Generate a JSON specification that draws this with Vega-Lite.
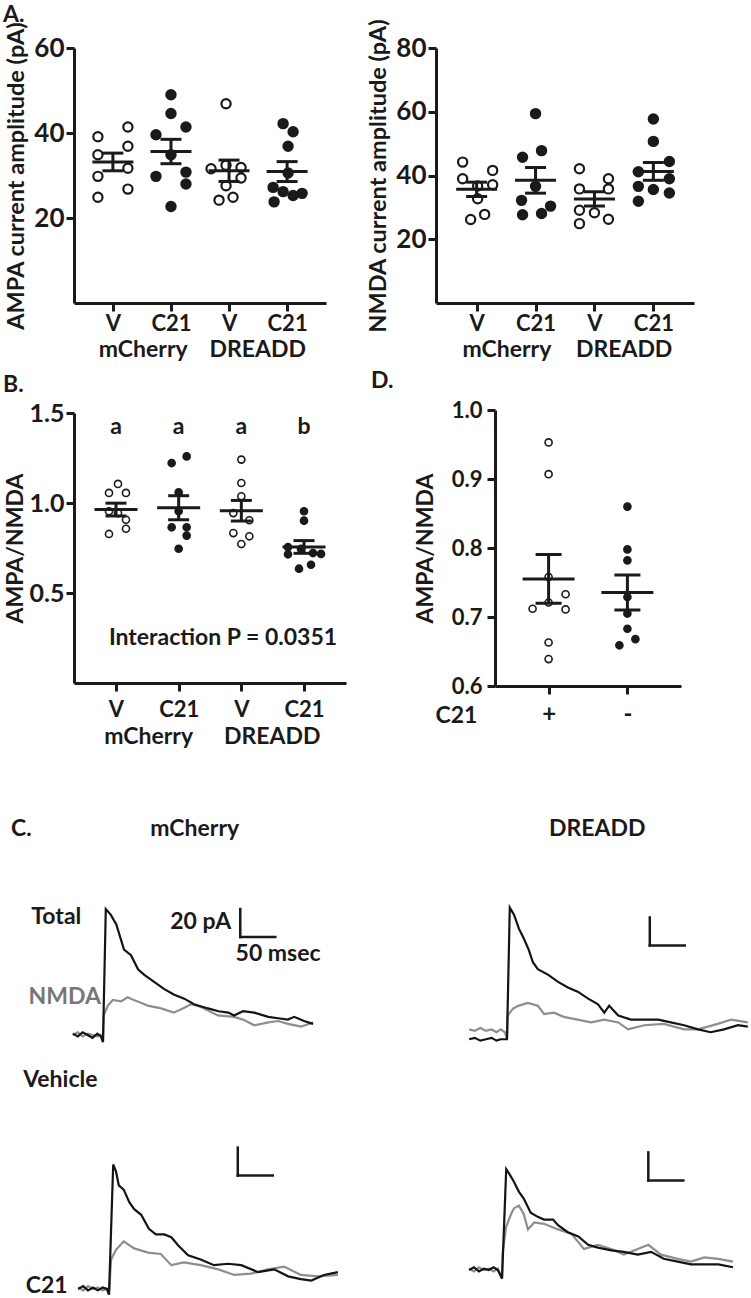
{
"$schema": "https://vega.github.io/schema/vega-lite/v6.json",
"background": "white",
"padding": {"left": 3, "top": 4, "right": 0, "bottom": 0},
"config": {
  "font": "Lato",
  "view": {"stroke": null},
  "axis": {"domainColor": "#1a1a1a", "domainWidth": 3, "tickColor": "#1a1a1a", "tickWidth": 3, "tickSize": 8, "labelFont": "Lato", "labelFontWeight": "bold", "labelFontSize": 22, "labelColor": "#1a1a1a", "titleFont": "Lato", "titleFontWeight": "bold", "titleFontSize": 23.5, "titleColor": "#1a1a1a", "grid": false},
  "title": {"font": "Lato", "fontWeight": "bold", "fontSize": 23, "color": "#1a1a1a"},
  "text": {"font": "Lato", "fontWeight": "bold", "fontSize": 23, "color": "#1a1a1a"},
  "tick": {"opacity": 1},
  "circle": {"opacity": 1}
},
"datasets": {
  "ampa": [
    {"grp": "mCherry V", "virus": "mCherry", "drug": "V", "jitter": -15, "amp": 39.1},
    {"grp": "mCherry V", "virus": "mCherry", "drug": "V", "jitter": 15, "amp": 41.4},
    {"grp": "mCherry V", "virus": "mCherry", "drug": "V", "jitter": -15, "amp": 34.9},
    {"grp": "mCherry V", "virus": "mCherry", "drug": "V", "jitter": 15, "amp": 36.9},
    {"grp": "mCherry V", "virus": "mCherry", "drug": "V", "jitter": -15, "amp": 29.8},
    {"grp": "mCherry V", "virus": "mCherry", "drug": "V", "jitter": 15, "amp": 31.7},
    {"grp": "mCherry V", "virus": "mCherry", "drug": "V", "jitter": -15, "amp": 24.9},
    {"grp": "mCherry V", "virus": "mCherry", "drug": "V", "jitter": 15, "amp": 26.8},
    {"grp": "mCherry C21", "virus": "mCherry", "drug": "C21", "jitter": 0, "amp": 49.0},
    {"grp": "mCherry C21", "virus": "mCherry", "drug": "C21", "jitter": 0, "amp": 44.6},
    {"grp": "mCherry C21", "virus": "mCherry", "drug": "C21", "jitter": 15, "amp": 41.4},
    {"grp": "mCherry C21", "virus": "mCherry", "drug": "C21", "jitter": -15, "amp": 39.6},
    {"grp": "mCherry C21", "virus": "mCherry", "drug": "C21", "jitter": 0, "amp": 34.9},
    {"grp": "mCherry C21", "virus": "mCherry", "drug": "C21", "jitter": -15, "amp": 29.8},
    {"grp": "mCherry C21", "virus": "mCherry", "drug": "C21", "jitter": 15, "amp": 30.8},
    {"grp": "mCherry C21", "virus": "mCherry", "drug": "C21", "jitter": 15, "amp": 28.0},
    {"grp": "mCherry C21", "virus": "mCherry", "drug": "C21", "jitter": 0, "amp": 22.7},
    {"grp": "DREADD V", "virus": "DREADD", "drug": "V", "jitter": -3, "amp": 46.9},
    {"grp": "DREADD V", "virus": "DREADD", "drug": "V", "jitter": -18, "amp": 31.6},
    {"grp": "DREADD V", "virus": "DREADD", "drug": "V", "jitter": -3, "amp": 32.4},
    {"grp": "DREADD V", "virus": "DREADD", "drug": "V", "jitter": 12, "amp": 31.9},
    {"grp": "DREADD V", "virus": "DREADD", "drug": "V", "jitter": 12, "amp": 29.4},
    {"grp": "DREADD V", "virus": "DREADD", "drug": "V", "jitter": -3, "amp": 27.6},
    {"grp": "DREADD V", "virus": "DREADD", "drug": "V", "jitter": -10, "amp": 24.2},
    {"grp": "DREADD V", "virus": "DREADD", "drug": "V", "jitter": 4, "amp": 24.9},
    {"grp": "DREADD C21", "virus": "DREADD", "drug": "C21", "jitter": -4, "amp": 42.2},
    {"grp": "DREADD C21", "virus": "DREADD", "drug": "C21", "jitter": 6, "amp": 40.3},
    {"grp": "DREADD C21", "virus": "DREADD", "drug": "C21", "jitter": 1, "amp": 36.9},
    {"grp": "DREADD C21", "virus": "DREADD", "drug": "C21", "jitter": 1, "amp": 30.6},
    {"grp": "DREADD C21", "virus": "DREADD", "drug": "C21", "jitter": -14, "amp": 27.2},
    {"grp": "DREADD C21", "virus": "DREADD", "drug": "C21", "jitter": -4, "amp": 26.2},
    {"grp": "DREADD C21", "virus": "DREADD", "drug": "C21", "jitter": 6, "amp": 25.3},
    {"grp": "DREADD C21", "virus": "DREADD", "drug": "C21", "jitter": 15, "amp": 25.8},
    {"grp": "DREADD C21", "virus": "DREADD", "drug": "C21", "jitter": -13, "amp": 23.8}
  ],
  "nmda": [
    {"grp": "mCherry V", "virus": "mCherry", "drug": "V", "jitter": -14, "amp": 44.2},
    {"grp": "mCherry V", "virus": "mCherry", "drug": "V", "jitter": 16, "amp": 41.6},
    {"grp": "mCherry V", "virus": "mCherry", "drug": "V", "jitter": -14, "amp": 39.0},
    {"grp": "mCherry V", "virus": "mCherry", "drug": "V", "jitter": 16, "amp": 37.1},
    {"grp": "mCherry V", "virus": "mCherry", "drug": "V", "jitter": 1, "amp": 36.7},
    {"grp": "mCherry V", "virus": "mCherry", "drug": "V", "jitter": 1, "amp": 32.7},
    {"grp": "mCherry V", "virus": "mCherry", "drug": "V", "jitter": -6, "amp": 26.2},
    {"grp": "mCherry V", "virus": "mCherry", "drug": "V", "jitter": 8, "amp": 27.8},
    {"grp": "mCherry C21", "virus": "mCherry", "drug": "C21", "jitter": 0, "amp": 59.4},
    {"grp": "mCherry C21", "virus": "mCherry", "drug": "C21", "jitter": 6, "amp": 47.8},
    {"grp": "mCherry C21", "virus": "mCherry", "drug": "C21", "jitter": -13, "amp": 45.7},
    {"grp": "mCherry C21", "virus": "mCherry", "drug": "C21", "jitter": 0, "amp": 36.6},
    {"grp": "mCherry C21", "virus": "mCherry", "drug": "C21", "jitter": -14, "amp": 32.2},
    {"grp": "mCherry C21", "virus": "mCherry", "drug": "C21", "jitter": 15, "amp": 30.4},
    {"grp": "mCherry C21", "virus": "mCherry", "drug": "C21", "jitter": -13, "amp": 27.7},
    {"grp": "mCherry C21", "virus": "mCherry", "drug": "C21", "jitter": 6, "amp": 28.1},
    {"grp": "DREADD V", "virus": "DREADD", "drug": "V", "jitter": -15, "amp": 42.1},
    {"grp": "DREADD V", "virus": "DREADD", "drug": "V", "jitter": 14, "amp": 39.0},
    {"grp": "DREADD V", "virus": "DREADD", "drug": "V", "jitter": -15, "amp": 35.8},
    {"grp": "DREADD V", "virus": "DREADD", "drug": "V", "jitter": 14, "amp": 35.8},
    {"grp": "DREADD V", "virus": "DREADD", "drug": "V", "jitter": -15, "amp": 29.1},
    {"grp": "DREADD V", "virus": "DREADD", "drug": "V", "jitter": 0, "amp": 28.3},
    {"grp": "DREADD V", "virus": "DREADD", "drug": "V", "jitter": 14, "amp": 26.3},
    {"grp": "DREADD V", "virus": "DREADD", "drug": "V", "jitter": -15, "amp": 24.9},
    {"grp": "DREADD C21", "virus": "DREADD", "drug": "C21", "jitter": 0, "amp": 57.7},
    {"grp": "DREADD C21", "virus": "DREADD", "drug": "C21", "jitter": 0, "amp": 50.7},
    {"grp": "DREADD C21", "virus": "DREADD", "drug": "C21", "jitter": 16, "amp": 44.4},
    {"grp": "DREADD C21", "virus": "DREADD", "drug": "C21", "jitter": -15, "amp": 41.2},
    {"grp": "DREADD C21", "virus": "DREADD", "drug": "C21", "jitter": -15, "amp": 36.6},
    {"grp": "DREADD C21", "virus": "DREADD", "drug": "C21", "jitter": 16, "amp": 39.0},
    {"grp": "DREADD C21", "virus": "DREADD", "drug": "C21", "jitter": 0, "amp": 35.6},
    {"grp": "DREADD C21", "virus": "DREADD", "drug": "C21", "jitter": 16, "amp": 34.5},
    {"grp": "DREADD C21", "virus": "DREADD", "drug": "C21", "jitter": -15, "amp": 31.9}
  ],
  "ratio": [
    {"grp": "mCherry V", "virus": "mCherry", "drug": "V", "jitter": 2, "ratio": 1.106},
    {"grp": "mCherry V", "virus": "mCherry", "drug": "V", "jitter": -7, "ratio": 1.056},
    {"grp": "mCherry V", "virus": "mCherry", "drug": "V", "jitter": 10, "ratio": 1.056},
    {"grp": "mCherry V", "virus": "mCherry", "drug": "V", "jitter": -7, "ratio": 0.954},
    {"grp": "mCherry V", "virus": "mCherry", "drug": "V", "jitter": 2, "ratio": 0.944},
    {"grp": "mCherry V", "virus": "mCherry", "drug": "V", "jitter": 10, "ratio": 0.907},
    {"grp": "mCherry V", "virus": "mCherry", "drug": "V", "jitter": -7, "ratio": 0.828},
    {"grp": "mCherry V", "virus": "mCherry", "drug": "V", "jitter": 10, "ratio": 0.857},
    {"grp": "mCherry C21", "virus": "mCherry", "drug": "C21", "jitter": 8, "ratio": 1.259},
    {"grp": "mCherry C21", "virus": "mCherry", "drug": "C21", "jitter": -7, "ratio": 1.222},
    {"grp": "mCherry C21", "virus": "mCherry", "drug": "C21", "jitter": 0, "ratio": 1.059},
    {"grp": "mCherry C21", "virus": "mCherry", "drug": "C21", "jitter": 0, "ratio": 0.954},
    {"grp": "mCherry C21", "virus": "mCherry", "drug": "C21", "jitter": -7, "ratio": 0.865},
    {"grp": "mCherry C21", "virus": "mCherry", "drug": "C21", "jitter": 8, "ratio": 0.865},
    {"grp": "mCherry C21", "virus": "mCherry", "drug": "C21", "jitter": 8, "ratio": 0.819},
    {"grp": "mCherry C21", "virus": "mCherry", "drug": "C21", "jitter": 0, "ratio": 0.746},
    {"grp": "DREADD V", "virus": "DREADD", "drug": "V", "jitter": 0, "ratio": 1.241},
    {"grp": "DREADD V", "virus": "DREADD", "drug": "V", "jitter": 0, "ratio": 1.111},
    {"grp": "DREADD V", "virus": "DREADD", "drug": "V", "jitter": 0, "ratio": 1.037},
    {"grp": "DREADD V", "virus": "DREADD", "drug": "V", "jitter": -8, "ratio": 0.944},
    {"grp": "DREADD V", "virus": "DREADD", "drug": "V", "jitter": 8, "ratio": 0.904},
    {"grp": "DREADD V", "virus": "DREADD", "drug": "V", "jitter": -8, "ratio": 0.833},
    {"grp": "DREADD V", "virus": "DREADD", "drug": "V", "jitter": 8, "ratio": 0.815},
    {"grp": "DREADD V", "virus": "DREADD", "drug": "V", "jitter": 0, "ratio": 0.772},
    {"grp": "DREADD C21", "virus": "DREADD", "drug": "C21", "jitter": 0, "ratio": 0.954},
    {"grp": "DREADD C21", "virus": "DREADD", "drug": "C21", "jitter": 0, "ratio": 0.902},
    {"grp": "DREADD C21", "virus": "DREADD", "drug": "C21", "jitter": -16, "ratio": 0.755},
    {"grp": "DREADD C21", "virus": "DREADD", "drug": "C21", "jitter": -16, "ratio": 0.715},
    {"grp": "DREADD C21", "virus": "DREADD", "drug": "C21", "jitter": -3, "ratio": 0.745},
    {"grp": "DREADD C21", "virus": "DREADD", "drug": "C21", "jitter": 9, "ratio": 0.722},
    {"grp": "DREADD C21", "virus": "DREADD", "drug": "C21", "jitter": 17, "ratio": 0.717},
    {"grp": "DREADD C21", "virus": "DREADD", "drug": "C21", "jitter": -5, "ratio": 0.635},
    {"grp": "DREADD C21", "virus": "DREADD", "drug": "C21", "jitter": 7, "ratio": 0.657}
  ],
  "letters": [
    {"grp": "mCherry V", "letter": "a"},
    {"grp": "mCherry C21", "letter": "a"},
    {"grp": "DREADD V", "letter": "a"},
    {"grp": "DREADD C21", "letter": "b"}
  ],
  "ratio2": [
    {"c21": "+", "jitter": 0, "ratio": 0.953},
    {"c21": "+", "jitter": 0, "ratio": 0.907},
    {"c21": "+", "jitter": 0, "ratio": 0.758},
    {"c21": "+", "jitter": 17, "ratio": 0.733},
    {"c21": "+", "jitter": -16, "ratio": 0.712},
    {"c21": "+", "jitter": 0, "ratio": 0.721},
    {"c21": "+", "jitter": 17, "ratio": 0.711},
    {"c21": "+", "jitter": 0, "ratio": 0.663},
    {"c21": "+", "jitter": 0, "ratio": 0.639},
    {"c21": "-", "jitter": 0, "ratio": 0.860},
    {"c21": "-", "jitter": 0, "ratio": 0.798},
    {"c21": "-", "jitter": 0, "ratio": 0.782},
    {"c21": "-", "jitter": 0, "ratio": 0.729},
    {"c21": "-", "jitter": 0, "ratio": 0.705},
    {"c21": "-", "jitter": 0, "ratio": 0.683},
    {"c21": "-", "jitter": 8, "ratio": 0.668},
    {"c21": "-", "jitter": -8, "ratio": 0.659}
  ],
  "traces": [
    {"cond": "MV", "trace": "Total", "t": -43, "pA": 1}, {"cond": "MV", "trace": "Total", "t": -36, "pA": -1}, {"cond": "MV", "trace": "Total", "t": -29, "pA": 2}, {"cond": "MV", "trace": "Total", "t": -22, "pA": 0}, {"cond": "MV", "trace": "Total", "t": -15, "pA": -2}, {"cond": "MV", "trace": "Total", "t": -8, "pA": 1}, {"cond": "MV", "trace": "Total", "t": -3, "pA": -1}, {"cond": "MV", "trace": "Total", "t": 0, "pA": -5}, {"cond": "MV", "trace": "Total", "t": 4, "pA": 90}, {"cond": "MV", "trace": "Total", "t": 11, "pA": 86}, {"cond": "MV", "trace": "Total", "t": 19, "pA": 79}, {"cond": "MV", "trace": "Total", "t": 30, "pA": 61}, {"cond": "MV", "trace": "Total", "t": 40, "pA": 57}, {"cond": "MV", "trace": "Total", "t": 50, "pA": 47}, {"cond": "MV", "trace": "Total", "t": 59, "pA": 43}, {"cond": "MV", "trace": "Total", "t": 73, "pA": 38}, {"cond": "MV", "trace": "Total", "t": 87, "pA": 33}, {"cond": "MV", "trace": "Total", "t": 101, "pA": 29}, {"cond": "MV", "trace": "Total", "t": 116, "pA": 26}, {"cond": "MV", "trace": "Total", "t": 130, "pA": 22}, {"cond": "MV", "trace": "Total", "t": 150, "pA": 19}, {"cond": "MV", "trace": "Total", "t": 165, "pA": 17}, {"cond": "MV", "trace": "Total", "t": 179, "pA": 16}, {"cond": "MV", "trace": "Total", "t": 187, "pA": 14}, {"cond": "MV", "trace": "Total", "t": 200, "pA": 17}, {"cond": "MV", "trace": "Total", "t": 216, "pA": 16}, {"cond": "MV", "trace": "Total", "t": 236, "pA": 13}, {"cond": "MV", "trace": "Total", "t": 250, "pA": 12}, {"cond": "MV", "trace": "Total", "t": 264, "pA": 11}, {"cond": "MV", "trace": "Total", "t": 273, "pA": 13}, {"cond": "MV", "trace": "Total", "t": 287, "pA": 10}, {"cond": "MV", "trace": "Total", "t": 300, "pA": 8},
    {"cond": "MV", "trace": "NMDA", "t": -43, "pA": 0}, {"cond": "MV", "trace": "NMDA", "t": -36, "pA": 2}, {"cond": "MV", "trace": "NMDA", "t": -29, "pA": -1}, {"cond": "MV", "trace": "NMDA", "t": -22, "pA": 1}, {"cond": "MV", "trace": "NMDA", "t": -15, "pA": 0}, {"cond": "MV", "trace": "NMDA", "t": -8, "pA": -1}, {"cond": "MV", "trace": "NMDA", "t": -3, "pA": 0}, {"cond": "MV", "trace": "NMDA", "t": 0, "pA": -5}, {"cond": "MV", "trace": "NMDA", "t": 1, "pA": 14}, {"cond": "MV", "trace": "NMDA", "t": 7, "pA": 21}, {"cond": "MV", "trace": "NMDA", "t": 14, "pA": 25}, {"cond": "MV", "trace": "NMDA", "t": 26, "pA": 24}, {"cond": "MV", "trace": "NMDA", "t": 35, "pA": 27}, {"cond": "MV", "trace": "NMDA", "t": 44, "pA": 25}, {"cond": "MV", "trace": "NMDA", "t": 54, "pA": 23}, {"cond": "MV", "trace": "NMDA", "t": 64, "pA": 21}, {"cond": "MV", "trace": "NMDA", "t": 83, "pA": 19}, {"cond": "MV", "trace": "NMDA", "t": 101, "pA": 16}, {"cond": "MV", "trace": "NMDA", "t": 114, "pA": 19}, {"cond": "MV", "trace": "NMDA", "t": 126, "pA": 22}, {"cond": "MV", "trace": "NMDA", "t": 140, "pA": 20}, {"cond": "MV", "trace": "NMDA", "t": 164, "pA": 14}, {"cond": "MV", "trace": "NMDA", "t": 187, "pA": 13}, {"cond": "MV", "trace": "NMDA", "t": 200, "pA": 11}, {"cond": "MV", "trace": "NMDA", "t": 216, "pA": 7}, {"cond": "MV", "trace": "NMDA", "t": 236, "pA": 9}, {"cond": "MV", "trace": "NMDA", "t": 250, "pA": 10}, {"cond": "MV", "trace": "NMDA", "t": 264, "pA": 8}, {"cond": "MV", "trace": "NMDA", "t": 283, "pA": 6}, {"cond": "MV", "trace": "NMDA", "t": 300, "pA": 9},
    {"cond": "MC", "trace": "Total", "t": -44, "pA": 0}, {"cond": "MC", "trace": "Total", "t": -37, "pA": 2}, {"cond": "MC", "trace": "Total", "t": -30, "pA": -1}, {"cond": "MC", "trace": "Total", "t": -23, "pA": 1}, {"cond": "MC", "trace": "Total", "t": -16, "pA": -1}, {"cond": "MC", "trace": "Total", "t": -9, "pA": 1}, {"cond": "MC", "trace": "Total", "t": -3, "pA": 0}, {"cond": "MC", "trace": "Total", "t": 0, "pA": -4}, {"cond": "MC", "trace": "Total", "t": 6, "pA": 89}, {"cond": "MC", "trace": "Total", "t": 10, "pA": 84}, {"cond": "MC", "trace": "Total", "t": 14, "pA": 74}, {"cond": "MC", "trace": "Total", "t": 21, "pA": 71}, {"cond": "MC", "trace": "Total", "t": 29, "pA": 62}, {"cond": "MC", "trace": "Total", "t": 36, "pA": 57}, {"cond": "MC", "trace": "Total", "t": 46, "pA": 53}, {"cond": "MC", "trace": "Total", "t": 57, "pA": 43}, {"cond": "MC", "trace": "Total", "t": 67, "pA": 39}, {"cond": "MC", "trace": "Total", "t": 79, "pA": 39}, {"cond": "MC", "trace": "Total", "t": 89, "pA": 37}, {"cond": "MC", "trace": "Total", "t": 99, "pA": 31}, {"cond": "MC", "trace": "Total", "t": 113, "pA": 24}, {"cond": "MC", "trace": "Total", "t": 131, "pA": 21}, {"cond": "MC", "trace": "Total", "t": 150, "pA": 17}, {"cond": "MC", "trace": "Total", "t": 170, "pA": 18}, {"cond": "MC", "trace": "Total", "t": 189, "pA": 17}, {"cond": "MC", "trace": "Total", "t": 213, "pA": 12}, {"cond": "MC", "trace": "Total", "t": 236, "pA": 14}, {"cond": "MC", "trace": "Total", "t": 256, "pA": 9}, {"cond": "MC", "trace": "Total", "t": 274, "pA": 7}, {"cond": "MC", "trace": "Total", "t": 289, "pA": 6}, {"cond": "MC", "trace": "Total", "t": 307, "pA": 10}, {"cond": "MC", "trace": "Total", "t": 327, "pA": 12},
    {"cond": "MC", "trace": "NMDA", "t": -44, "pA": 1}, {"cond": "MC", "trace": "NMDA", "t": -37, "pA": -1}, {"cond": "MC", "trace": "NMDA", "t": -30, "pA": 2}, {"cond": "MC", "trace": "NMDA", "t": -23, "pA": 0}, {"cond": "MC", "trace": "NMDA", "t": -16, "pA": 1}, {"cond": "MC", "trace": "NMDA", "t": -9, "pA": -1}, {"cond": "MC", "trace": "NMDA", "t": -3, "pA": 0}, {"cond": "MC", "trace": "NMDA", "t": 0, "pA": -4}, {"cond": "MC", "trace": "NMDA", "t": 3, "pA": 21}, {"cond": "MC", "trace": "NMDA", "t": 10, "pA": 28}, {"cond": "MC", "trace": "NMDA", "t": 21, "pA": 34}, {"cond": "MC", "trace": "NMDA", "t": 36, "pA": 29}, {"cond": "MC", "trace": "NMDA", "t": 56, "pA": 26}, {"cond": "MC", "trace": "NMDA", "t": 74, "pA": 25}, {"cond": "MC", "trace": "NMDA", "t": 89, "pA": 17}, {"cond": "MC", "trace": "NMDA", "t": 107, "pA": 19}, {"cond": "MC", "trace": "NMDA", "t": 131, "pA": 17}, {"cond": "MC", "trace": "NMDA", "t": 156, "pA": 14}, {"cond": "MC", "trace": "NMDA", "t": 179, "pA": 10}, {"cond": "MC", "trace": "NMDA", "t": 203, "pA": 11}, {"cond": "MC", "trace": "NMDA", "t": 227, "pA": 14}, {"cond": "MC", "trace": "NMDA", "t": 250, "pA": 16}, {"cond": "MC", "trace": "NMDA", "t": 274, "pA": 10}, {"cond": "MC", "trace": "NMDA", "t": 299, "pA": 9}, {"cond": "MC", "trace": "NMDA", "t": 327, "pA": 10},
    {"cond": "DV", "trace": "Total", "t": -54, "pA": -3}, {"cond": "DV", "trace": "Total", "t": -46, "pA": -2}, {"cond": "DV", "trace": "Total", "t": -38, "pA": -4}, {"cond": "DV", "trace": "Total", "t": -30, "pA": -3}, {"cond": "DV", "trace": "Total", "t": -22, "pA": -2}, {"cond": "DV", "trace": "Total", "t": -15, "pA": -4}, {"cond": "DV", "trace": "Total", "t": -9, "pA": -3}, {"cond": "DV", "trace": "Total", "t": -3, "pA": -3}, {"cond": "DV", "trace": "Total", "t": 0, "pA": -3}, {"cond": "DV", "trace": "Total", "t": 4, "pA": 91}, {"cond": "DV", "trace": "Total", "t": 10, "pA": 86}, {"cond": "DV", "trace": "Total", "t": 17, "pA": 76}, {"cond": "DV", "trace": "Total", "t": 24, "pA": 69}, {"cond": "DV", "trace": "Total", "t": 31, "pA": 61}, {"cond": "DV", "trace": "Total", "t": 37, "pA": 52}, {"cond": "DV", "trace": "Total", "t": 44, "pA": 47}, {"cond": "DV", "trace": "Total", "t": 59, "pA": 43}, {"cond": "DV", "trace": "Total", "t": 73, "pA": 38}, {"cond": "DV", "trace": "Total", "t": 87, "pA": 34}, {"cond": "DV", "trace": "Total", "t": 101, "pA": 31}, {"cond": "DV", "trace": "Total", "t": 116, "pA": 26}, {"cond": "DV", "trace": "Total", "t": 130, "pA": 22}, {"cond": "DV", "trace": "Total", "t": 139, "pA": 16}, {"cond": "DV", "trace": "Total", "t": 146, "pA": 21}, {"cond": "DV", "trace": "Total", "t": 159, "pA": 14}, {"cond": "DV", "trace": "Total", "t": 177, "pA": 11}, {"cond": "DV", "trace": "Total", "t": 196, "pA": 11}, {"cond": "DV", "trace": "Total", "t": 216, "pA": 11}, {"cond": "DV", "trace": "Total", "t": 234, "pA": 9}, {"cond": "DV", "trace": "Total", "t": 253, "pA": 7}, {"cond": "DV", "trace": "Total", "t": 273, "pA": 4}, {"cond": "DV", "trace": "Total", "t": 291, "pA": 2}, {"cond": "DV", "trace": "Total", "t": 310, "pA": 4}, {"cond": "DV", "trace": "Total", "t": 330, "pA": 7}, {"cond": "DV", "trace": "Total", "t": 344, "pA": 6},
    {"cond": "DV", "trace": "NMDA", "t": -54, "pA": 4}, {"cond": "DV", "trace": "NMDA", "t": -46, "pA": 3}, {"cond": "DV", "trace": "NMDA", "t": -38, "pA": 5}, {"cond": "DV", "trace": "NMDA", "t": -30, "pA": 3}, {"cond": "DV", "trace": "NMDA", "t": -22, "pA": 4}, {"cond": "DV", "trace": "NMDA", "t": -15, "pA": 2}, {"cond": "DV", "trace": "NMDA", "t": -9, "pA": 4}, {"cond": "DV", "trace": "NMDA", "t": -3, "pA": 2}, {"cond": "DV", "trace": "NMDA", "t": 0, "pA": -3}, {"cond": "DV", "trace": "NMDA", "t": 1, "pA": 14}, {"cond": "DV", "trace": "NMDA", "t": 9, "pA": 19}, {"cond": "DV", "trace": "NMDA", "t": 17, "pA": 21}, {"cond": "DV", "trace": "NMDA", "t": 30, "pA": 23}, {"cond": "DV", "trace": "NMDA", "t": 44, "pA": 21}, {"cond": "DV", "trace": "NMDA", "t": 53, "pA": 15}, {"cond": "DV", "trace": "NMDA", "t": 67, "pA": 16}, {"cond": "DV", "trace": "NMDA", "t": 81, "pA": 13}, {"cond": "DV", "trace": "NMDA", "t": 101, "pA": 11}, {"cond": "DV", "trace": "NMDA", "t": 120, "pA": 9}, {"cond": "DV", "trace": "NMDA", "t": 139, "pA": 11}, {"cond": "DV", "trace": "NMDA", "t": 159, "pA": 9}, {"cond": "DV", "trace": "NMDA", "t": 173, "pA": 4}, {"cond": "DV", "trace": "NMDA", "t": 196, "pA": 7}, {"cond": "DV", "trace": "NMDA", "t": 224, "pA": 8}, {"cond": "DV", "trace": "NMDA", "t": 253, "pA": 4}, {"cond": "DV", "trace": "NMDA", "t": 273, "pA": 4}, {"cond": "DV", "trace": "NMDA", "t": 301, "pA": 8}, {"cond": "DV", "trace": "NMDA", "t": 320, "pA": 11}, {"cond": "DV", "trace": "NMDA", "t": 344, "pA": 9},
    {"cond": "DC", "trace": "Total", "t": -47, "pA": 0}, {"cond": "DC", "trace": "Total", "t": -40, "pA": 2}, {"cond": "DC", "trace": "Total", "t": -33, "pA": -1}, {"cond": "DC", "trace": "Total", "t": -26, "pA": 1}, {"cond": "DC", "trace": "Total", "t": -19, "pA": 0}, {"cond": "DC", "trace": "Total", "t": -12, "pA": 2}, {"cond": "DC", "trace": "Total", "t": -6, "pA": 0}, {"cond": "DC", "trace": "Total", "t": 0, "pA": -6}, {"cond": "DC", "trace": "Total", "t": 6, "pA": 72}, {"cond": "DC", "trace": "Total", "t": 10, "pA": 69}, {"cond": "DC", "trace": "Total", "t": 17, "pA": 63}, {"cond": "DC", "trace": "Total", "t": 24, "pA": 56}, {"cond": "DC", "trace": "Total", "t": 31, "pA": 51}, {"cond": "DC", "trace": "Total", "t": 41, "pA": 41}, {"cond": "DC", "trace": "Total", "t": 51, "pA": 38}, {"cond": "DC", "trace": "Total", "t": 60, "pA": 36}, {"cond": "DC", "trace": "Total", "t": 73, "pA": 36}, {"cond": "DC", "trace": "Total", "t": 80, "pA": 32}, {"cond": "DC", "trace": "Total", "t": 94, "pA": 27}, {"cond": "DC", "trace": "Total", "t": 109, "pA": 24}, {"cond": "DC", "trace": "Total", "t": 123, "pA": 18}, {"cond": "DC", "trace": "Total", "t": 137, "pA": 16}, {"cond": "DC", "trace": "Total", "t": 156, "pA": 14}, {"cond": "DC", "trace": "Total", "t": 174, "pA": 13}, {"cond": "DC", "trace": "Total", "t": 194, "pA": 11}, {"cond": "DC", "trace": "Total", "t": 213, "pA": 13}, {"cond": "DC", "trace": "Total", "t": 231, "pA": 8}, {"cond": "DC", "trace": "Total", "t": 251, "pA": 6}, {"cond": "DC", "trace": "Total", "t": 270, "pA": 4}, {"cond": "DC", "trace": "Total", "t": 289, "pA": 4}, {"cond": "DC", "trace": "Total", "t": 309, "pA": 4}, {"cond": "DC", "trace": "Total", "t": 330, "pA": 2},
    {"cond": "DC", "trace": "NMDA", "t": -47, "pA": 1}, {"cond": "DC", "trace": "NMDA", "t": -40, "pA": -1}, {"cond": "DC", "trace": "NMDA", "t": -33, "pA": 2}, {"cond": "DC", "trace": "NMDA", "t": -26, "pA": 0}, {"cond": "DC", "trace": "NMDA", "t": -19, "pA": 1}, {"cond": "DC", "trace": "NMDA", "t": -12, "pA": -1}, {"cond": "DC", "trace": "NMDA", "t": -6, "pA": 1}, {"cond": "DC", "trace": "NMDA", "t": 0, "pA": -6}, {"cond": "DC", "trace": "NMDA", "t": 1, "pA": 13}, {"cond": "DC", "trace": "NMDA", "t": 6, "pA": 31}, {"cond": "DC", "trace": "NMDA", "t": 13, "pA": 40}, {"cond": "DC", "trace": "NMDA", "t": 17, "pA": 44}, {"cond": "DC", "trace": "NMDA", "t": 24, "pA": 46}, {"cond": "DC", "trace": "NMDA", "t": 31, "pA": 40}, {"cond": "DC", "trace": "NMDA", "t": 37, "pA": 29}, {"cond": "DC", "trace": "NMDA", "t": 46, "pA": 34}, {"cond": "DC", "trace": "NMDA", "t": 60, "pA": 33}, {"cond": "DC", "trace": "NMDA", "t": 80, "pA": 29}, {"cond": "DC", "trace": "NMDA", "t": 99, "pA": 26}, {"cond": "DC", "trace": "NMDA", "t": 117, "pA": 15}, {"cond": "DC", "trace": "NMDA", "t": 137, "pA": 18}, {"cond": "DC", "trace": "NMDA", "t": 156, "pA": 15}, {"cond": "DC", "trace": "NMDA", "t": 174, "pA": 11}, {"cond": "DC", "trace": "NMDA", "t": 194, "pA": 15}, {"cond": "DC", "trace": "NMDA", "t": 209, "pA": 18}, {"cond": "DC", "trace": "NMDA", "t": 227, "pA": 11}, {"cond": "DC", "trace": "NMDA", "t": 251, "pA": 8}, {"cond": "DC", "trace": "NMDA", "t": 270, "pA": 6}, {"cond": "DC", "trace": "NMDA", "t": 289, "pA": 9}, {"cond": "DC", "trace": "NMDA", "t": 309, "pA": 8}, {"cond": "DC", "trace": "NMDA", "t": 330, "pA": 6}
  ]
},
"spacing": 70,
"vconcat": [
  {
    "spacing": 9,
    "vconcat": [
      {
        "bounds": "flush",
        "spacing": 110,
        "hconcat": [
          {
            "width": 252, "height": 255,
            "title": {"text": "A.", "anchor": "start", "frame": "group", "offset": -6, "dx": -71},
            "data": {"name": "ampa"},
            "layer": [
              {"layer": [
                {"mark": {"type": "circle", "size": 85, "stroke": "#1a1a1a", "strokeWidth": 2.2, "opacity": 1},
                 "encoding": {
                   "x": {"field": "grp", "type": "ordinal", "scale": {"type": "point", "padding": 0.67, "domain": ["mCherry V", "mCherry C21", "DREADD V", "DREADD C21"]}, "axis": {"title": null, "labelExpr": "split(datum.label,' ')[1]", "labelAngle": 0, "labelPadding": 2}},
                   "xOffset": {"field": "jitter", "type": "quantitative", "scale": {"domain": [-20, 20], "range": [-20, 20]}},
                   "y": {"field": "amp", "type": "quantitative", "title": "AMPA current amplitude (pA)", "scale": {"domain": [0, 60], "nice": false}, "axis": {"values": [20, 40, 60], "labelPadding": 2, "titlePadding": 5, "labelFontSize": 26}},
                   "fill": {"field": "drug", "type": "nominal", "scale": {"domain": ["V", "C21"], "range": ["white", "#1a1a1a"]}, "legend": null}
                 }},
                {"mark": {"type": "errorbar", "extent": "stderr", "ticks": {"size": 21, "thickness": 3, "color": "#1a1a1a"}, "rule": {"strokeWidth": 3, "color": "#1a1a1a"}},
                 "encoding": {"x": {"field": "grp", "type": "ordinal", "scale": {"type": "point", "padding": 0.67, "domain": ["mCherry V", "mCherry C21", "DREADD V", "DREADD C21"]}}, "y": {"field": "amp", "type": "quantitative", "title": "AMPA current amplitude (pA)"}}},
                {"mark": {"type": "tick", "size": 41, "thickness": 3, "color": "#1a1a1a", "opacity": 1},
                 "encoding": {"x": {"field": "grp", "type": "ordinal", "scale": {"type": "point", "padding": 0.67, "domain": ["mCherry V", "mCherry C21", "DREADD V", "DREADD C21"]}}, "y": {"aggregate": "mean", "field": "amp", "type": "quantitative", "title": "AMPA current amplitude (pA)"}}}
              ]},
              {"mark": {"type": "circle", "opacity": 0},
               "encoding": {
                 "x": {"field": "virus", "type": "nominal", "scale": {"type": "point", "padding": 0.6, "domain": ["mCherry", "DREADD"]}, "axis": {"orient": "bottom", "domain": false, "ticks": false, "labelPadding": 35, "labelFontSize": 23, "title": null, "labelAngle": 0}},
                 "y": {"field": "amp", "type": "quantitative", "title": "AMPA current amplitude (pA)"}
               }}
            ],
            "resolve": {"scale": {"x": "independent"}}
          },
          {
            "width": 258, "height": 255,
            "data": {"name": "nmda"},
            "layer": [
              {"layer": [
                {"mark": {"type": "circle", "size": 85, "stroke": "#1a1a1a", "strokeWidth": 2.2, "opacity": 1},
                 "encoding": {
                   "x": {"field": "grp", "type": "ordinal", "scale": {"type": "point", "padding": 0.69, "domain": ["mCherry V", "mCherry C21", "DREADD V", "DREADD C21"]}, "axis": {"title": null, "labelExpr": "split(datum.label,' ')[1]", "labelAngle": 0, "labelPadding": 2}},
                   "xOffset": {"field": "jitter", "type": "quantitative", "scale": {"domain": [-20, 20], "range": [-20, 20]}},
                   "y": {"field": "amp", "type": "quantitative", "title": "NMDA current amplitude (pA)", "scale": {"domain": [0, 80], "nice": false}, "axis": {"values": [20, 40, 60, 80], "labelPadding": 2, "titlePadding": 5, "labelFontSize": 26}},
                   "fill": {"field": "drug", "type": "nominal", "scale": {"domain": ["V", "C21"], "range": ["white", "#1a1a1a"]}, "legend": null}
                 }},
                {"mark": {"type": "errorbar", "extent": "stderr", "ticks": {"size": 21, "thickness": 3, "color": "#1a1a1a"}, "rule": {"strokeWidth": 3, "color": "#1a1a1a"}},
                 "encoding": {"x": {"field": "grp", "type": "ordinal", "scale": {"type": "point", "padding": 0.69, "domain": ["mCherry V", "mCherry C21", "DREADD V", "DREADD C21"]}}, "y": {"field": "amp", "type": "quantitative", "title": "NMDA current amplitude (pA)"}}},
                {"mark": {"type": "tick", "size": 41, "thickness": 3, "color": "#1a1a1a", "opacity": 1},
                 "encoding": {"x": {"field": "grp", "type": "ordinal", "scale": {"type": "point", "padding": 0.69, "domain": ["mCherry V", "mCherry C21", "DREADD V", "DREADD C21"]}}, "y": {"aggregate": "mean", "field": "amp", "type": "quantitative", "title": "NMDA current amplitude (pA)"}}}
              ]},
              {"mark": {"type": "circle", "opacity": 0},
               "encoding": {
                 "x": {"field": "virus", "type": "nominal", "scale": {"type": "point", "padding": 0.6, "domain": ["mCherry", "DREADD"]}, "axis": {"orient": "bottom", "domain": false, "ticks": false, "labelPadding": 35, "labelFontSize": 23, "title": null, "labelAngle": 0}},
                 "y": {"field": "amp", "type": "quantitative", "title": "NMDA current amplitude (pA)"}
               }}
            ],
            "resolve": {"scale": {"x": "independent"}}
          }
        ]
      },
      {
        "bounds": "flush",
        "spacing": 149,
        "center": true,
        "hconcat": [
          {
            "width": 272, "height": 270,
            "title": {"text": "B.", "anchor": "start", "frame": "group", "offset": 4, "dx": -71},
            "data": {"name": "ratio"},
            "layer": [
              {"layer": [
                {"mark": {"type": "circle", "size": 50, "stroke": "#1a1a1a", "strokeWidth": 1.6, "opacity": 1},
                 "encoding": {
                   "x": {"field": "grp", "type": "ordinal", "scale": {"type": "point", "padding": 0.67, "domain": ["mCherry V", "mCherry C21", "DREADD V", "DREADD C21"]}, "axis": {"title": null, "labelExpr": "split(datum.label,' ')[1]", "labelAngle": 0, "labelPadding": 8}},
                   "xOffset": {"field": "jitter", "type": "quantitative", "scale": {"domain": [-20, 20], "range": [-20, 20]}},
                   "y": {"field": "ratio", "type": "quantitative", "title": "AMPA/NMDA", "scale": {"domain": [0, 1.5], "nice": false}, "axis": {"values": [0.5, 1.0, 1.5], "format": ".1f", "labelPadding": 2, "titlePadding": 2, "labelFontSize": 25, "titleFontSize": 23}},
                   "fill": {"field": "drug", "type": "nominal", "scale": {"domain": ["V", "C21"], "range": ["white", "#1a1a1a"]}, "legend": null}
                 }},
                {"mark": {"type": "errorbar", "extent": "stderr", "ticks": {"size": 21, "thickness": 3, "color": "#1a1a1a"}, "rule": {"strokeWidth": 3, "color": "#1a1a1a"}},
                 "encoding": {"x": {"field": "grp", "type": "ordinal", "scale": {"type": "point", "padding": 0.67, "domain": ["mCherry V", "mCherry C21", "DREADD V", "DREADD C21"]}}, "y": {"field": "ratio", "type": "quantitative", "title": "AMPA/NMDA"}}},
                {"mark": {"type": "tick", "size": 43, "thickness": 3, "color": "#1a1a1a", "opacity": 1},
                 "encoding": {"x": {"field": "grp", "type": "ordinal", "scale": {"type": "point", "padding": 0.67, "domain": ["mCherry V", "mCherry C21", "DREADD V", "DREADD C21"]}}, "y": {"aggregate": "mean", "field": "ratio", "type": "quantitative", "title": "AMPA/NMDA"}}},
                {"data": {"name": "letters"},
                 "mark": {"type": "text", "fontSize": 23, "fontWeight": "bold", "baseline": "middle"},
                 "encoding": {"x": {"field": "grp", "type": "ordinal", "scale": {"type": "point", "padding": 0.67, "domain": ["mCherry V", "mCherry C21", "DREADD V", "DREADD C21"]}}, "y": {"datum": 1.42, "title": "AMPA/NMDA"}, "text": {"field": "letter"}}},
                {"data": {"values": [{}]},
                 "mark": {"type": "text", "fontSize": 23, "fontWeight": "bold", "baseline": "middle", "dx": 13, "text": "Interaction P = 0.0351"},
                 "encoding": {"y": {"datum": 0.25, "title": "AMPA/NMDA"}}}
              ]},
              {"mark": {"type": "circle", "opacity": 0},
               "encoding": {
                 "x": {"field": "virus", "type": "nominal", "scale": {"type": "point", "padding": 0.6, "domain": ["mCherry", "DREADD"]}, "axis": {"orient": "bottom", "domain": false, "ticks": false, "labelPadding": 42, "labelFontSize": 23, "title": null, "labelAngle": 0}},
                 "y": {"field": "ratio", "type": "quantitative", "title": "AMPA/NMDA"}
               }}
            ],
            "resolve": {"scale": {"x": "independent"}}
          },
          {
            "width": 186, "height": 276,
            "title": {"text": "D.", "anchor": "start", "frame": "group", "offset": 6, "dx": -124},
            "data": {"name": "ratio2"},
            "layer": [
              {"mark": {"type": "circle", "size": 50, "stroke": "#1a1a1a", "strokeWidth": 1.6, "opacity": 1},
               "encoding": {
                 "x": {"field": "c21", "type": "nominal", "title": "C21", "scale": {"type": "point", "padding": 0.68, "domain": ["+", "-"]}, "axis": {"titleAngle": 0, "titleX": -39, "titleY": 29, "titleBaseline": "middle", "titleAlign": "center", "titleFontSize": 23, "labelAngle": 0, "labelPadding": 8, "labelFontSize": 24}},
                 "xOffset": {"field": "jitter", "type": "quantitative", "scale": {"domain": [-20, 20], "range": [-20, 20]}},
                 "y": {"field": "ratio", "type": "quantitative", "title": "AMPA/NMDA", "scale": {"domain": [0.6, 1.0], "nice": false, "zero": false}, "axis": {"values": [0.6, 0.7, 0.8, 0.9, 1.0], "format": ".1f", "labelFontSize": 22, "labelPadding": 5, "titlePadding": 14, "titleFontSize": 23}},
                 "fill": {"field": "c21", "type": "nominal", "scale": {"domain": ["+", "-"], "range": ["white", "#1a1a1a"]}, "legend": null}
               }},
              {"mark": {"type": "errorbar", "extent": "stderr", "ticks": {"size": 26, "thickness": 3, "color": "#1a1a1a"}, "rule": {"strokeWidth": 3, "color": "#1a1a1a"}},
               "encoding": {"x": {"field": "c21", "type": "nominal", "title": "C21", "scale": {"type": "point", "padding": 0.68, "domain": ["+", "-"]}}, "y": {"field": "ratio", "type": "quantitative", "title": "AMPA/NMDA"}}},
              {"mark": {"type": "tick", "size": 52, "thickness": 3, "color": "#1a1a1a", "opacity": 1},
               "encoding": {"x": {"field": "c21", "type": "nominal", "title": "C21", "scale": {"type": "point", "padding": 0.68, "domain": ["+", "-"]}}, "y": {"aggregate": "mean", "field": "ratio", "type": "quantitative", "title": "AMPA/NMDA"}}}
            ]
          }
        ]
      }
    ]
  },
  {
    "spacing": 115,
    "hconcat": [
      {
        "bounds": "flush",
        "spacing": 45,
        "vconcat": [
          {
            "width": 272, "height": 195,
            "layer": [
              {"data": {"name": "traces"}, "transform": [{"filter": "datum.cond == 'MV' && datum.trace == 'NMDA'"}],
               "mark": {"type": "line", "color": "#8e8e8e", "strokeWidth": 2.2},
               "encoding": {"x": {"field": "t", "type": "quantitative", "scale": {"domain": [-41.4, 347], "nice": false, "zero": false}, "axis": null}, "y": {"field": "pA", "type": "quantitative", "scale": {"domain": [-40.7, 98.6], "nice": false, "zero": false}, "axis": null}}},
              {"data": {"name": "traces"}, "transform": [{"filter": "datum.cond == 'MV' && datum.trace == 'Total'"}],
               "mark": {"type": "line", "color": "#141414", "strokeWidth": 2.2},
               "encoding": {"x": {"field": "t", "type": "quantitative", "axis": null}, "y": {"field": "pA", "type": "quantitative", "axis": null}}},
              {"data": {"values": [{}]}, "mark": {"type": "rule", "color": "#1a1a1a", "strokeWidth": 2.5, "strokeCap": "square"},
               "encoding": {"x": {"datum": 196, "axis": null}, "y": {"datum": 70, "axis": null}, "y2": {"datum": 90}}},
              {"data": {"values": [{}]}, "mark": {"type": "rule", "color": "#1a1a1a", "strokeWidth": 2.5, "strokeCap": "square"},
               "encoding": {"x": {"datum": 196, "axis": null}, "x2": {"datum": 246}, "y": {"datum": 70, "axis": null}}},
              {"data": {"values": [{}]}, "mark": {"type": "text", "text": "C.", "align": "left", "baseline": "middle"},
               "encoding": {"x": {"datum": -131.4, "axis": null}, "y": {"datum": 147, "axis": null}}},
              {"data": {"values": [{}]}, "mark": {"type": "text", "text": "mCherry", "align": "center", "baseline": "middle"},
               "encoding": {"x": {"datum": 131, "axis": null}, "y": {"datum": 147, "axis": null}}},
              {"data": {"values": [{}]}, "mark": {"type": "text", "text": "Total", "align": "right", "baseline": "middle"},
               "encoding": {"x": {"datum": -31, "axis": null}, "y": {"datum": 84, "axis": null}}},
              {"data": {"values": [{}]}, "mark": {"type": "text", "text": "NMDA", "align": "right", "baseline": "middle", "color": "#777777"},
               "encoding": {"x": {"datum": -3, "axis": null}, "y": {"datum": 27, "axis": null}}},
              {"data": {"values": [{}]}, "mark": {"type": "text", "text": "20 pA", "align": "right", "baseline": "middle"},
               "encoding": {"x": {"datum": 183, "axis": null}, "y": {"datum": 81, "axis": null}}},
              {"data": {"values": [{}]}, "mark": {"type": "text", "text": "50 msec", "align": "center", "baseline": "middle"},
               "encoding": {"x": {"datum": 250, "axis": null}, "y": {"datum": 58, "axis": null}}},
              {"data": {"values": [{}]}, "mark": {"type": "text", "text": "Vehicle", "align": "left", "baseline": "middle"},
               "encoding": {"x": {"datum": -114, "axis": null}, "y": {"datum": -32, "axis": null}}}
            ]
          },
          {
            "width": 272, "height": 163,
            "layer": [
              {"data": {"name": "traces"}, "transform": [{"filter": "datum.cond == 'MC' && datum.trace == 'NMDA'"}],
               "mark": {"type": "line", "color": "#8e8e8e", "strokeWidth": 2.2},
               "encoding": {"x": {"field": "t", "type": "quantitative", "scale": {"domain": [-50, 338.6], "nice": false, "zero": false}, "axis": null}, "y": {"field": "pA", "type": "quantitative", "scale": {"domain": [-7.9, 108.6], "nice": false, "zero": false}, "axis": null}}},
              {"data": {"name": "traces"}, "transform": [{"filter": "datum.cond == 'MC' && datum.trace == 'Total'"}],
               "mark": {"type": "line", "color": "#141414", "strokeWidth": 2.2},
               "encoding": {"x": {"field": "t", "type": "quantitative", "axis": null}, "y": {"field": "pA", "type": "quantitative", "axis": null}}},
              {"data": {"values": [{}]}, "mark": {"type": "rule", "color": "#1a1a1a", "strokeWidth": 2.5, "strokeCap": "square"},
               "encoding": {"x": {"datum": 184, "axis": null}, "y": {"datum": 81, "axis": null}, "y2": {"datum": 101}}},
              {"data": {"values": [{}]}, "mark": {"type": "rule", "color": "#1a1a1a", "strokeWidth": 2.5, "strokeCap": "square"},
               "encoding": {"x": {"datum": 184, "axis": null}, "x2": {"datum": 234}, "y": {"datum": 81, "axis": null}}},
              {"data": {"values": [{}]}, "mark": {"type": "text", "text": "C21", "align": "left", "baseline": "middle"},
               "encoding": {"x": {"datum": -119, "axis": null}, "y": {"datum": 2, "axis": null}}}
            ]
          }
        ]
      },
      {
        "bounds": "flush",
        "spacing": 45,
        "vconcat": [
          {
            "width": 291, "height": 195,
            "layer": [
              {"data": {"name": "traces"}, "transform": [{"filter": "datum.cond == 'DV' && datum.trace == 'NMDA'"}],
               "mark": {"type": "line", "color": "#8e8e8e", "strokeWidth": 2.2},
               "encoding": {"x": {"field": "t", "type": "quantitative", "scale": {"domain": [-65.7, 350], "nice": false, "zero": false}, "axis": null}, "y": {"field": "pA", "type": "quantitative", "scale": {"domain": [-40.7, 98.6], "nice": false, "zero": false}, "axis": null}}},
              {"data": {"name": "traces"}, "transform": [{"filter": "datum.cond == 'DV' && datum.trace == 'Total'"}],
               "mark": {"type": "line", "color": "#141414", "strokeWidth": 2.2},
               "encoding": {"x": {"field": "t", "type": "quantitative", "axis": null}, "y": {"field": "pA", "type": "quantitative", "axis": null}}},
              {"data": {"values": [{}]}, "mark": {"type": "rule", "color": "#1a1a1a", "strokeWidth": 2.5, "strokeCap": "square"},
               "encoding": {"x": {"datum": 204, "axis": null}, "y": {"datum": 64, "axis": null}, "y2": {"datum": 84}}},
              {"data": {"values": [{}]}, "mark": {"type": "rule", "color": "#1a1a1a", "strokeWidth": 2.5, "strokeCap": "square"},
               "encoding": {"x": {"datum": 204, "axis": null}, "x2": {"datum": 254}, "y": {"datum": 64, "axis": null}}},
              {"data": {"values": [{}]}, "mark": {"type": "text", "text": "DREADD", "align": "center", "baseline": "middle"},
               "encoding": {"x": {"datum": 129, "axis": null}, "y": {"datum": 147, "axis": null}}}
            ]
          },
          {
            "width": 291, "height": 163,
            "layer": [
              {"data": {"name": "traces"}, "transform": [{"filter": "datum.cond == 'DC' && datum.trace == 'NMDA'"}],
               "mark": {"type": "line", "color": "#8e8e8e", "strokeWidth": 2.2},
               "encoding": {"x": {"field": "t", "type": "quantitative", "scale": {"domain": [-58.6, 357.1], "nice": false, "zero": false}, "axis": null}, "y": {"field": "pA", "type": "quantitative", "scale": {"domain": [-21.4, 95], "nice": false, "zero": false}, "axis": null}}},
              {"data": {"name": "traces"}, "transform": [{"filter": "datum.cond == 'DC' && datum.trace == 'Total'"}],
               "mark": {"type": "line", "color": "#141414", "strokeWidth": 2.2},
               "encoding": {"x": {"field": "t", "type": "quantitative", "axis": null}, "y": {"field": "pA", "type": "quantitative", "axis": null}}},
              {"data": {"values": [{}]}, "mark": {"type": "rule", "color": "#1a1a1a", "strokeWidth": 2.5, "strokeCap": "square"},
               "encoding": {"x": {"datum": 209, "axis": null}, "y": {"datum": 64, "axis": null}, "y2": {"datum": 84}}},
              {"data": {"values": [{}]}, "mark": {"type": "rule", "color": "#1a1a1a", "strokeWidth": 2.5, "strokeCap": "square"},
               "encoding": {"x": {"datum": 209, "axis": null}, "x2": {"datum": 259}, "y": {"datum": 64, "axis": null}}}
            ]
          }
        ]
      }
    ]
  }
]
}
